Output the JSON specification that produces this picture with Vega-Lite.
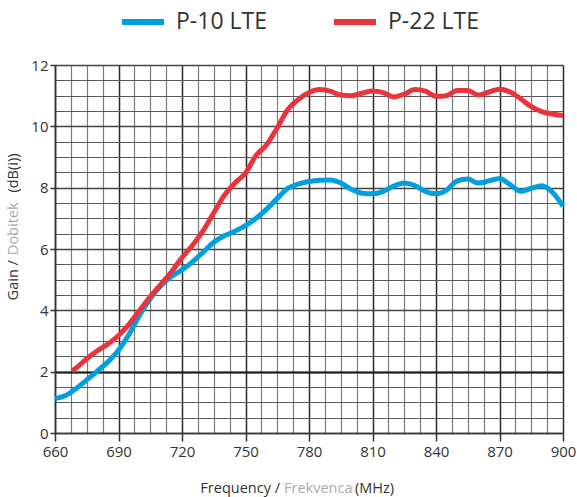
{
  "$schema": "https://vega.github.io/schema/vega-lite/v6.json",
  "width": 508,
  "height": 368,
  "autosize": {"type": "none"},
  "padding": {"left": 55, "top": 65, "right": 14, "bottom": 64},
  "background": "white",
  "config": {
    "view": {"stroke": null},
    "font": "Open Sans"
  },
  "resolve": {"axis": {"x": "independent", "y": "independent"}},
  "layer": [
    {
      "data": {"values": [{"freq": 660, "gain": 0}]},
      "mark": {"type": "point", "opacity": 0},
      "encoding": {
        "x": {
          "field": "freq", "type": "quantitative",
          "scale": {"domain": [660, 900], "nice": false, "zero": false},
          "axis": {
            "orient": "bottom", "title": null,
            "values": [667.5, 675, 682.5, 697.5, 705, 712.5, 727.5, 735, 742.5, 757.5, 765, 772.5, 787.5, 795, 802.5, 817.5, 825, 832.5, 847.5, 855, 862.5, 877.5, 885, 892.5],
            "labels": false, "ticks": false, "domain": false,
            "grid": true, "gridColor": "#7a7a7a", "gridWidth": 1.2, "gridOpacity": 1
          }
        },
        "y": {
          "field": "gain", "type": "quantitative",
          "scale": {"domain": [0, 12], "nice": false},
          "axis": {
            "orient": "left", "title": null,
            "values": [0.5, 1, 1.5, 2.5, 3, 3.5, 4.5, 5, 5.5, 6.5, 7, 7.5, 8.5, 9, 9.5, 10.5, 11, 11.5],
            "labels": false, "ticks": false, "domain": false,
            "grid": true, "gridColor": "#5a5a5a", "gridWidth": 1.2, "gridOpacity": 1
          }
        }
      }
    },
    {
      "data": {"values": [{"freq": 660, "gain": 0}]},
      "mark": {"type": "point", "opacity": 0},
      "encoding": {
        "x": {
          "field": "freq", "type": "quantitative",
          "axis": {
            "orient": "bottom", "title": null,
            "values": [660, 690, 720, 750, 780, 810, 840, 870, 900],
            "labelFontSize": 15, "labelColor": "#333333", "labelPadding": 3, "labelFlush": false, "labelOverlap": false,
            "grid": true, "gridColor": "#2a2a2a", "gridWidth": 1.5, "gridOpacity": 1,
            "tickSize": 8, "tickColor": "#333333", "tickWidth": 1.5,
            "domainColor": "#333333", "domainWidth": 1.5
          }
        },
        "y": {
          "field": "gain", "type": "quantitative",
          "axis": {
            "orient": "left", "title": null,
            "values": [0, 2, 4, 6, 8, 10, 12],
            "labelFontSize": 15, "labelColor": "#333333", "labelPadding": 2, "labelFlush": false, "labelOverlap": false,
            "grid": true, "gridColor": "#444444", "gridWidth": 1.4, "gridOpacity": 1,
            "tickSize": 5, "tickColor": "#333333", "tickWidth": 1.5,
            "domainColor": "#333333", "domainWidth": 1.5
          }
        }
      }
    },
    {
      "data": {
        "values": [
          {"freq": 660, "gain": 1.12, "series": "P-10 LTE"},
          {"freq": 665, "gain": 1.22, "series": "P-10 LTE"},
          {"freq": 670, "gain": 1.45, "series": "P-10 LTE"},
          {"freq": 675, "gain": 1.73, "series": "P-10 LTE"},
          {"freq": 680, "gain": 2.02, "series": "P-10 LTE"},
          {"freq": 685, "gain": 2.32, "series": "P-10 LTE"},
          {"freq": 690, "gain": 2.7, "series": "P-10 LTE"},
          {"freq": 695, "gain": 3.22, "series": "P-10 LTE"},
          {"freq": 700, "gain": 3.85, "series": "P-10 LTE"},
          {"freq": 705, "gain": 4.38, "series": "P-10 LTE"},
          {"freq": 710, "gain": 4.8, "series": "P-10 LTE"},
          {"freq": 715, "gain": 5.1, "series": "P-10 LTE"},
          {"freq": 720, "gain": 5.32, "series": "P-10 LTE"},
          {"freq": 725, "gain": 5.58, "series": "P-10 LTE"},
          {"freq": 730, "gain": 5.9, "series": "P-10 LTE"},
          {"freq": 735, "gain": 6.22, "series": "P-10 LTE"},
          {"freq": 740, "gain": 6.43, "series": "P-10 LTE"},
          {"freq": 745, "gain": 6.58, "series": "P-10 LTE"},
          {"freq": 750, "gain": 6.76, "series": "P-10 LTE"},
          {"freq": 755, "gain": 7.0, "series": "P-10 LTE"},
          {"freq": 760, "gain": 7.3, "series": "P-10 LTE"},
          {"freq": 765, "gain": 7.65, "series": "P-10 LTE"},
          {"freq": 770, "gain": 7.98, "series": "P-10 LTE"},
          {"freq": 775, "gain": 8.12, "series": "P-10 LTE"},
          {"freq": 780, "gain": 8.2, "series": "P-10 LTE"},
          {"freq": 785, "gain": 8.24, "series": "P-10 LTE"},
          {"freq": 790, "gain": 8.25, "series": "P-10 LTE"},
          {"freq": 795, "gain": 8.15, "series": "P-10 LTE"},
          {"freq": 800, "gain": 7.95, "series": "P-10 LTE"},
          {"freq": 805, "gain": 7.82, "series": "P-10 LTE"},
          {"freq": 810, "gain": 7.8, "series": "P-10 LTE"},
          {"freq": 815, "gain": 7.88, "series": "P-10 LTE"},
          {"freq": 820, "gain": 8.05, "series": "P-10 LTE"},
          {"freq": 825, "gain": 8.15, "series": "P-10 LTE"},
          {"freq": 830, "gain": 8.07, "series": "P-10 LTE"},
          {"freq": 835, "gain": 7.88, "series": "P-10 LTE"},
          {"freq": 840, "gain": 7.8, "series": "P-10 LTE"},
          {"freq": 845, "gain": 7.92, "series": "P-10 LTE"},
          {"freq": 850, "gain": 8.22, "series": "P-10 LTE"},
          {"freq": 855, "gain": 8.28, "series": "P-10 LTE"},
          {"freq": 860, "gain": 8.15, "series": "P-10 LTE"},
          {"freq": 865, "gain": 8.22, "series": "P-10 LTE"},
          {"freq": 870, "gain": 8.3, "series": "P-10 LTE"},
          {"freq": 875, "gain": 8.1, "series": "P-10 LTE"},
          {"freq": 880, "gain": 7.88, "series": "P-10 LTE"},
          {"freq": 885, "gain": 7.98, "series": "P-10 LTE"},
          {"freq": 890, "gain": 8.06, "series": "P-10 LTE"},
          {"freq": 895, "gain": 7.85, "series": "P-10 LTE"},
          {"freq": 900, "gain": 7.4, "series": "P-10 LTE"},
          {"freq": 668, "gain": 2.02, "series": "P-22 LTE"},
          {"freq": 670, "gain": 2.12, "series": "P-22 LTE"},
          {"freq": 675, "gain": 2.42, "series": "P-22 LTE"},
          {"freq": 680, "gain": 2.68, "series": "P-22 LTE"},
          {"freq": 685, "gain": 2.9, "series": "P-22 LTE"},
          {"freq": 690, "gain": 3.18, "series": "P-22 LTE"},
          {"freq": 695, "gain": 3.55, "series": "P-22 LTE"},
          {"freq": 700, "gain": 4.0, "series": "P-22 LTE"},
          {"freq": 705, "gain": 4.45, "series": "P-22 LTE"},
          {"freq": 710, "gain": 4.85, "series": "P-22 LTE"},
          {"freq": 715, "gain": 5.25, "series": "P-22 LTE"},
          {"freq": 720, "gain": 5.72, "series": "P-22 LTE"},
          {"freq": 725, "gain": 6.12, "series": "P-22 LTE"},
          {"freq": 730, "gain": 6.6, "series": "P-22 LTE"},
          {"freq": 735, "gain": 7.18, "series": "P-22 LTE"},
          {"freq": 740, "gain": 7.75, "series": "P-22 LTE"},
          {"freq": 745, "gain": 8.15, "series": "P-22 LTE"},
          {"freq": 750, "gain": 8.48, "series": "P-22 LTE"},
          {"freq": 755, "gain": 9.05, "series": "P-22 LTE"},
          {"freq": 760, "gain": 9.4, "series": "P-22 LTE"},
          {"freq": 765, "gain": 9.95, "series": "P-22 LTE"},
          {"freq": 770, "gain": 10.55, "series": "P-22 LTE"},
          {"freq": 775, "gain": 10.88, "series": "P-22 LTE"},
          {"freq": 780, "gain": 11.1, "series": "P-22 LTE"},
          {"freq": 785, "gain": 11.2, "series": "P-22 LTE"},
          {"freq": 790, "gain": 11.15, "series": "P-22 LTE"},
          {"freq": 795, "gain": 11.02, "series": "P-22 LTE"},
          {"freq": 800, "gain": 11.0, "series": "P-22 LTE"},
          {"freq": 805, "gain": 11.08, "series": "P-22 LTE"},
          {"freq": 810, "gain": 11.15, "series": "P-22 LTE"},
          {"freq": 815, "gain": 11.1, "series": "P-22 LTE"},
          {"freq": 820, "gain": 10.96, "series": "P-22 LTE"},
          {"freq": 825, "gain": 11.05, "series": "P-22 LTE"},
          {"freq": 830, "gain": 11.2, "series": "P-22 LTE"},
          {"freq": 835, "gain": 11.15, "series": "P-22 LTE"},
          {"freq": 840, "gain": 10.98, "series": "P-22 LTE"},
          {"freq": 845, "gain": 11.0, "series": "P-22 LTE"},
          {"freq": 850, "gain": 11.17, "series": "P-22 LTE"},
          {"freq": 855, "gain": 11.17, "series": "P-22 LTE"},
          {"freq": 860, "gain": 11.02, "series": "P-22 LTE"},
          {"freq": 865, "gain": 11.12, "series": "P-22 LTE"},
          {"freq": 870, "gain": 11.21, "series": "P-22 LTE"},
          {"freq": 875, "gain": 11.12, "series": "P-22 LTE"},
          {"freq": 880, "gain": 10.9, "series": "P-22 LTE"},
          {"freq": 885, "gain": 10.64, "series": "P-22 LTE"},
          {"freq": 890, "gain": 10.48, "series": "P-22 LTE"},
          {"freq": 895, "gain": 10.4, "series": "P-22 LTE"},
          {"freq": 900, "gain": 10.35, "series": "P-22 LTE"}
        ]
      },
      "mark": {"type": "line", "interpolate": "monotone", "strokeWidth": 5},
      "encoding": {
        "x": {"field": "freq", "type": "quantitative", "axis": null},
        "y": {
          "field": "gain", "type": "quantitative",
          "axis": {
            "orient": "left", "title": null, "values": [2],
            "labels": false, "ticks": false, "domain": false,
            "grid": true, "gridColor": "#1a1a1a", "gridWidth": 2.2, "gridOpacity": 1
          }
        },
        "color": {
          "field": "series", "type": "nominal",
          "scale": {"domain": ["P-10 LTE", "P-22 LTE"], "range": ["#00a0e0", "#e8353b"]},
          "legend": {
            "title": null,
            "orient": "none",
            "direction": "horizontal",
            "legendX": 64,
            "legendY": -67,
            "symbolType": "stroke",
            "symbolSize": 1764,
            "symbolStrokeWidth": 6,
            "labelFontSize": 23,
            "labelColor": "#333333",
            "labelOffset": 9,
            "columnPadding": 55,
            "padding": 0
          }
        }
      }
    },
    {
      "data": {"values": [{"x": 766.3, "y": -1.83, "t": "Frequency /"}]},
      "mark": {"type": "text", "fontSize": 14.5, "baseline": "middle", "align": "right", "color": "#333333"},
      "encoding": {
        "x": {"field": "x", "type": "quantitative", "axis": null},
        "y": {"field": "y", "type": "quantitative", "axis": null},
        "text": {"field": "t"}
      }
    },
    {
      "data": {"values": [{"x": 768.2, "y": -1.83, "t": "Frekvenca"}]},
      "mark": {"type": "text", "fontSize": 14.5, "baseline": "middle", "align": "left", "color": "#aaaaaa"},
      "encoding": {
        "x": {"field": "x", "type": "quantitative", "axis": null},
        "y": {"field": "y", "type": "quantitative", "axis": null},
        "text": {"field": "t"}
      }
    },
    {
      "data": {"values": [{"x": 801.7, "y": -1.83, "t": "(MHz)"}]},
      "mark": {"type": "text", "fontSize": 14.5, "baseline": "middle", "align": "left", "color": "#333333"},
      "encoding": {
        "x": {"field": "x", "type": "quantitative", "axis": null},
        "y": {"field": "y", "type": "quantitative", "axis": null},
        "text": {"field": "t"}
      }
    },
    {
      "data": {"values": [{"x": 640.7, "y": 5.8, "t": "Gain /"}]},
      "mark": {"type": "text", "fontSize": 14.5, "baseline": "middle", "align": "right", "angle": 270, "dx": -5, "color": "#333333"},
      "encoding": {
        "x": {"field": "x", "type": "quantitative", "axis": null},
        "y": {"field": "y", "type": "quantitative", "axis": null},
        "text": {"field": "t"}
      }
    },
    {
      "data": {"values": [{"x": 640.7, "y": 5.8, "t": "Dobitek"}]},
      "mark": {"type": "text", "fontSize": 14.5, "baseline": "middle", "align": "left", "angle": 270, "color": "#aaaaaa"},
      "encoding": {
        "x": {"field": "x", "type": "quantitative", "axis": null},
        "y": {"field": "y", "type": "quantitative", "axis": null},
        "text": {"field": "t"}
      }
    },
    {
      "data": {"values": [{"x": 640.7, "y": 7.84, "t": "(dB(i))"}]},
      "mark": {"type": "text", "fontSize": 14.5, "baseline": "middle", "align": "left", "angle": 270, "color": "#333333"},
      "encoding": {
        "x": {"field": "x", "type": "quantitative", "axis": null},
        "y": {"field": "y", "type": "quantitative", "axis": null},
        "text": {"field": "t"}
      }
    }
  ]
}
